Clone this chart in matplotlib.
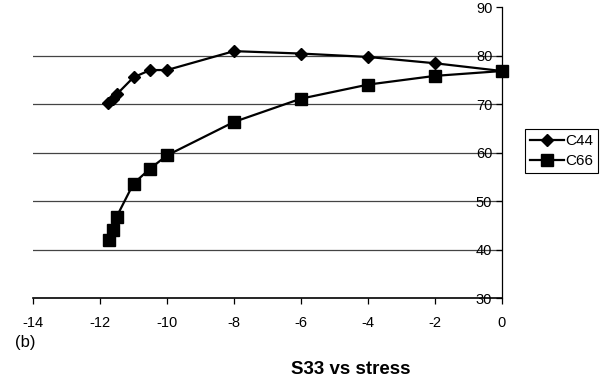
import matplotlib
matplotlib.use("Agg")
import matplotlib.pyplot as plt

plt.rcParams['font.family'] = ['Liberation Sans', 'DejaVu Sans']

# stress values and elastic constants
c44_x = [-11.75, -11.6, -11.5, -11.0, -10.5, -10.0, -8.0, -6.0, -4.0, -2.0, 0.0]
c44_y = [70.2, 71.1, 72.0, 75.5, 77.0, 77.0, 80.9, 80.4, 79.7, 78.4, 76.8]

c66_x = [-11.72, -11.6, -11.5, -11.0, -10.5, -10.0, -8.0, -6.0, -4.0, -2.0, 0.0]
c66_y = [41.9, 44.1, 46.8, 53.6, 56.7, 59.4, 66.3, 71.1, 74.0, 75.8, 76.8]

x_ticks = [-14, -12, -10, -8, -6, -4, -2, 0]
y_ticks = [30, 40, 50, 60, 70, 80, 90]
grid_levels = [40, 50, 60, 70, 80]

fig = plt.figure(figsize=(6.03, 3.81), dpi=100)
ax = fig.add_axes([33 / 603, 83 / 381, 469 / 603, 291 / 381])

ax.set_xlim(-14, 0)
ax.set_ylim(30, 90)

for lv in grid_levels:
    ax.axhline(lv, color='#444444', lw=0.9, zorder=1)

ax.plot(c44_x, c44_y, color='black', lw=1.6, marker='D', ms=6.5,
        label='C44', clip_on=False, zorder=3)
ax.plot(c66_x, c66_y, color='black', lw=1.6, marker='s', ms=8.5,
        label='C66', clip_on=False, zorder=3)

ax.spines['top'].set_visible(False)
ax.spines['right'].set_visible(False)
ax.spines['left'].set_position(('data', 0))
ax.spines['left'].set_linewidth(0.9)
ax.spines['bottom'].set_linewidth(1.2)

ax.set_xticks(x_ticks)
ax.set_xticklabels([str(t) for t in x_ticks])
ax.set_yticks(y_ticks)
ax.set_yticklabels([str(t) for t in y_ticks])
ax.tick_params(axis='both', direction='out', length=4, width=0.9,
               labelsize=10.5, color='black')
ax.tick_params(axis='x', pad=9)
ax.tick_params(axis='y', pad=3)

leg = fig.legend(loc='center', bbox_to_anchor=(561.5 / 603, 1 - 151 / 381),
                 fancybox=False, edgecolor='black', framealpha=1,
                 handlelength=2.2, handletextpad=0.1, borderpad=0.35,
                 labelspacing=0.4, fontsize=11, borderaxespad=0)
leg.get_frame().set_linewidth(0.8)

fig.text(15 / 603, 1 - 343 / 381, '(b)', fontsize=12, va='center', ha='left')
fig.text(351 / 603, 1 - 370 / 381, 'S33 vs stress', fontsize=13.5,
         fontweight='bold', va='center', ha='center')

fig.savefig('out.png', dpi=100)
